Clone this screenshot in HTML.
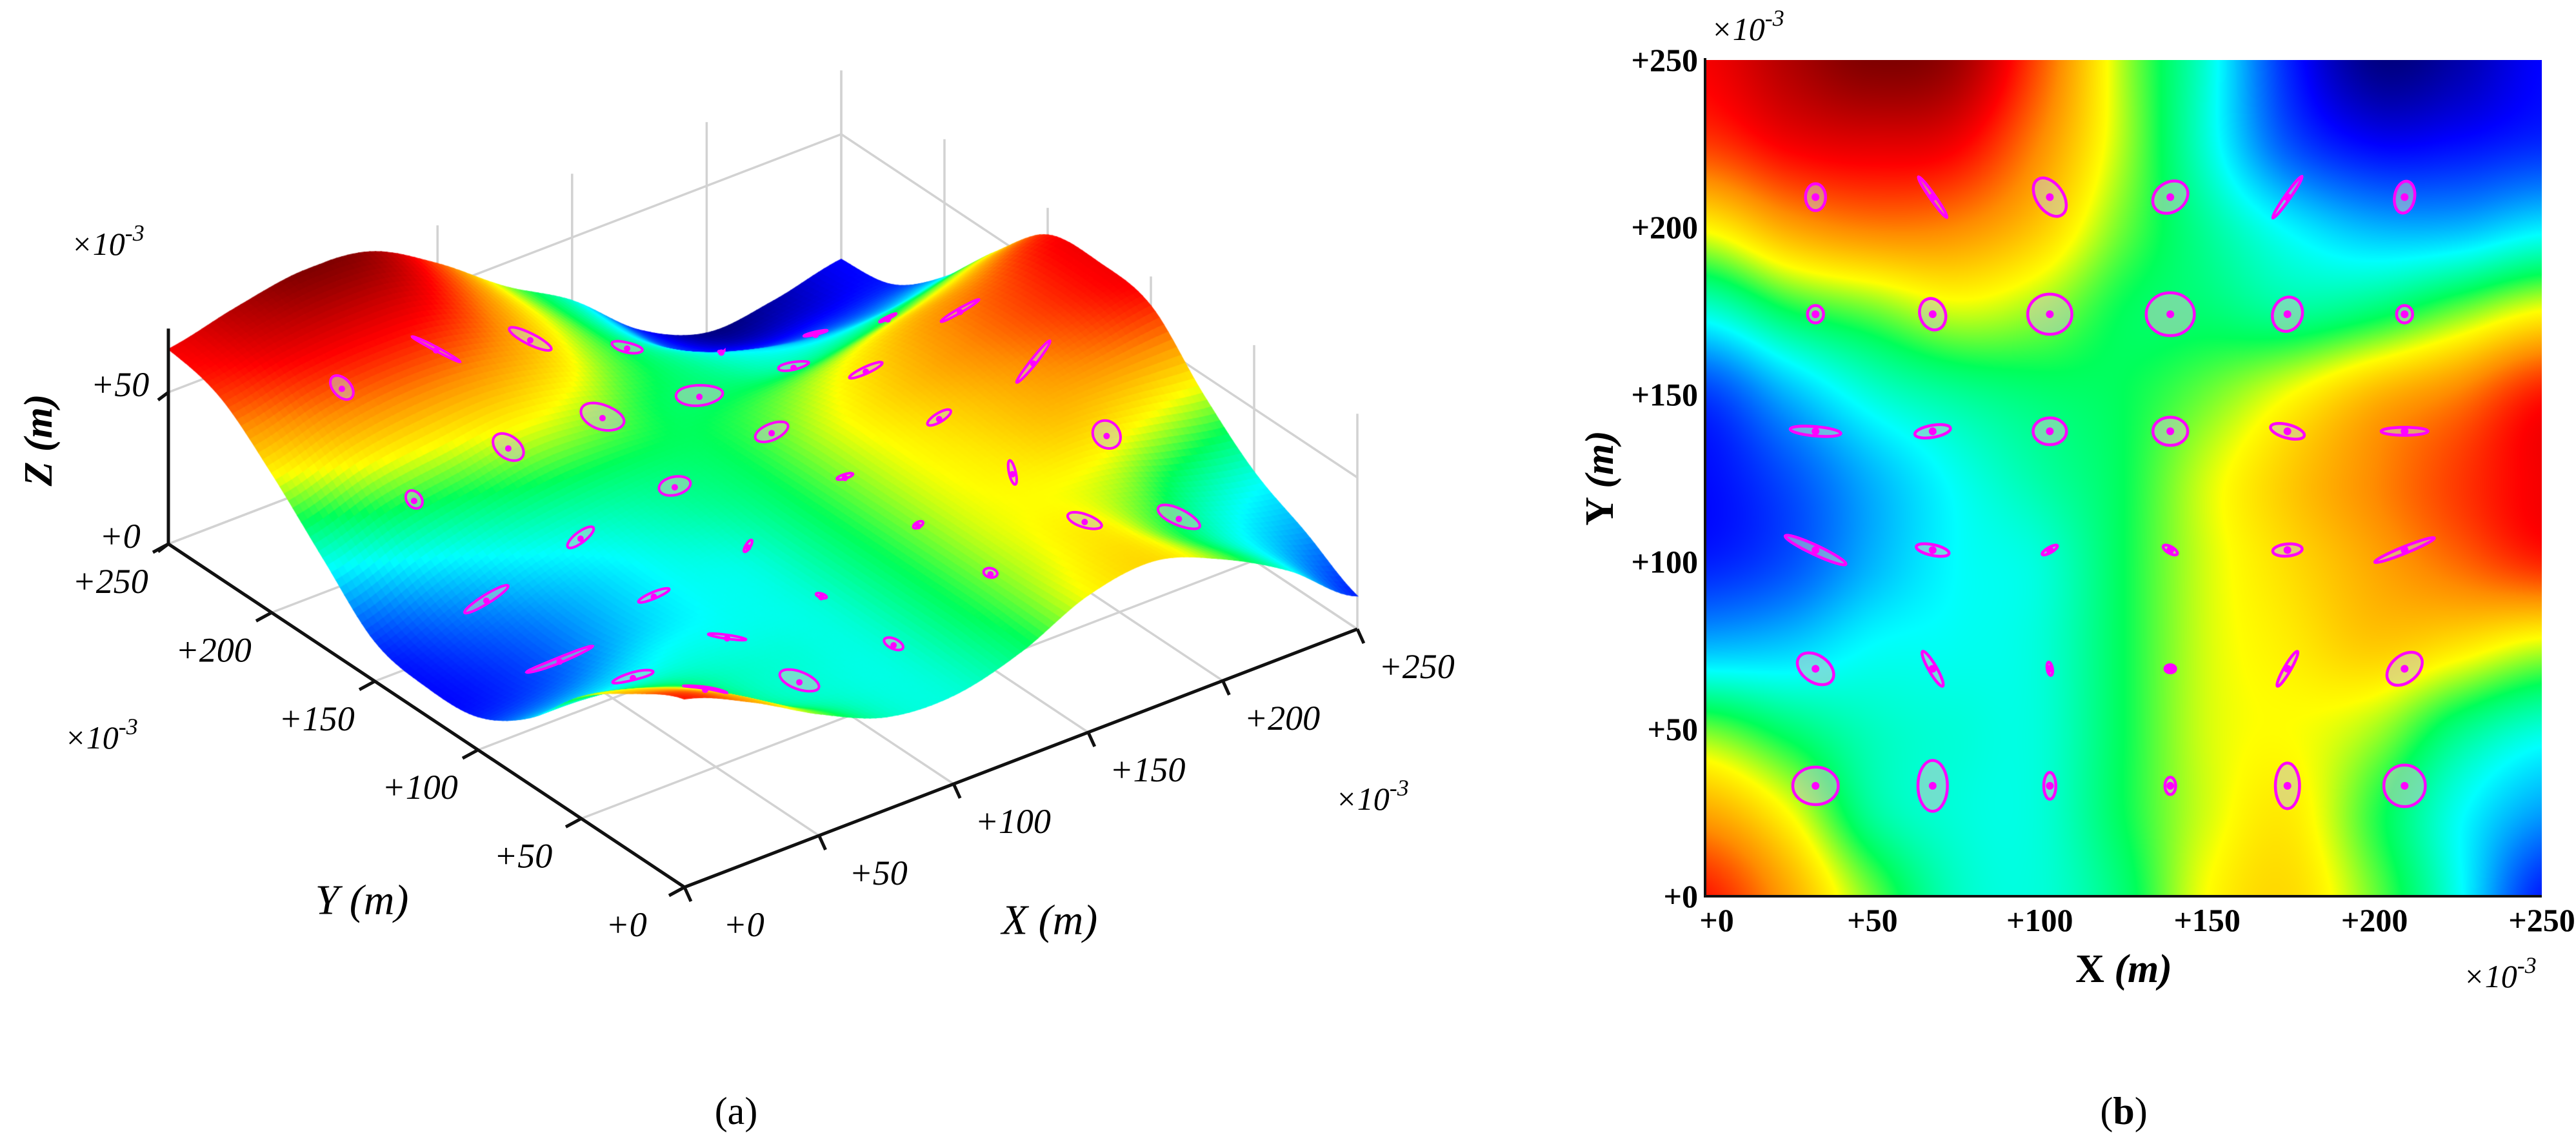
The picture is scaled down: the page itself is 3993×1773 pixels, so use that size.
<!DOCTYPE html>
<html><head><meta charset="utf-8"><style>
html,body{margin:0;padding:0;background:#fff;}
#root{position:relative;width:3993px;height:1773px;overflow:hidden;background:#fff;}
canvas,svg{position:absolute;left:0;top:0;}
text{font-family:"Liberation Serif",serif;}
</style></head><body>
<div id="root">
<svg id="backA" width="2500" height="1773"></svg>
<canvas id="surfA" width="2500" height="1773"></canvas>
<svg id="frontA" width="2500" height="1773"></svg>
<canvas id="heatB" width="1297" height="1296" style="left:2643px;top:93px"></canvas>
<svg id="svgB" width="3993" height="1773"></svg>
</div>
<script>
// ---- data ----
const gridX=[0,25,50,75,100,125,150,175,200,225,250];
const gridY=[250,225,200,175,150,125,100,75,50,25,0];
const fieldRows=[
[0.88,0.95,1.00,0.97,0.80,0.58,0.40,0.15,0.02,0.05,0.12],
[0.82,0.88,0.90,0.88,0.75,0.58,0.40,0.20,0.12,0.13,0.16],
[0.63,0.72,0.76,0.75,0.68,0.55,0.45,0.36,0.30,0.30,0.35],
[0.40,0.50,0.55,0.60,0.57,0.50,0.48,0.45,0.48,0.55,0.62],
[0.18,0.30,0.40,0.45,0.48,0.50,0.55,0.62,0.70,0.76,0.85],
[0.13,0.20,0.30,0.38,0.44,0.50,0.60,0.68,0.75,0.82,0.88],
[0.15,0.20,0.30,0.37,0.40,0.50,0.60,0.66,0.72,0.78,0.84],
[0.30,0.32,0.37,0.38,0.40,0.50,0.60,0.64,0.68,0.65,0.60],
[0.55,0.48,0.42,0.40,0.40,0.50,0.60,0.62,0.58,0.47,0.40],
[0.72,0.62,0.45,0.40,0.40,0.50,0.60,0.64,0.52,0.38,0.28],
[0.85,0.72,0.55,0.42,0.40,0.48,0.62,0.66,0.55,0.38,0.15]];
const ellX=[33,68,103,139,174,209];
const ellY=[209,174,139,103.5,68,33];
const ellRx=[3,7.4,6.4,5.6,7.6,3, 2.4,3.8,6.6,7.2,4.4,2.4, 7.6,5.4,5,5.2,5.2,7, 10,5,2.6,2.4,4.4,9.6, 6,6,2,1.6,6,6, 6.8,4.4,1.8,1.6,3.6,6.2];
const ellRy=[4,0.8,4,4.4,0.8,4.8, 2.6,4.8,6,6.4,5.2,2.6, 1.4,1.8,4,4.2,2,1.2, 1.4,1.6,0.8,1,1.8,1, 4,1.2,0.8,1.2,1,4, 5.6,7.6,4,2.6,6.8,6.2];
const ellAng=[0,55,55,-35,-55,10, 0,-20,0,0,20,0, 5,-10,0,0,15,0, 25,12,-30,30,-5,-22, 35,60,80,0,-60,-40, 0,0,0,0,0,0];
const tickVals=[0,50,100,150,200,250];
const zTicks=[0,50];
const cmapPos=[0,0.12,0.25,0.37,0.5,0.62,0.75,0.87,1];
const cmapCol=[[0,0,110],[0,0,255],[0,128,255],[0,255,255],[0,255,90],[255,255,0],[255,140,0],[255,0,0],[128,0,0]];

const NS="http://www.w3.org/2000/svg";
function gv(r,c){r=Math.max(0,Math.min(10,r));c=Math.max(0,Math.min(10,c));return fieldRows[r][c];}
function cr(p0,p1,p2,p3,t){return p1+0.5*t*(p2-p0+t*(2*p0-5*p1+4*p2-p3+t*(3*(p1-p2)+p3-p0)));}
function field(x,y){
  let c=Math.max(0,Math.min(9.9999,x/25)), r=Math.max(0,Math.min(9.9999,(250-y)/25));
  let c0=Math.floor(c),r0=Math.floor(r),fc=c-c0,fr=r-r0;
  const rows=[];
  for(let k=-1;k<=2;k++)rows.push(cr(gv(r0+k,c0-1),gv(r0+k,c0),gv(r0+k,c0+1),gv(r0+k,c0+2),fc));
  return Math.max(0,Math.min(1,cr(rows[0],rows[1],rows[2],rows[3],fr)));
}
function cmap(t){
  for(let i=0;i<cmapPos.length-1;i++){if(t<=cmapPos[i+1]){const f=(t-cmapPos[i])/(cmapPos[i+1]-cmapPos[i]);
    return cmapCol[i].map((v,k)=>Math.round(v+(cmapCol[i+1][k]-v)*f));}}
  return cmapCol[cmapCol.length-1];
}
function mk(parent,tag,attrs){const e=document.createElementNS(NS,tag);for(const k in attrs)e.setAttribute(k,attrs[k]);parent.appendChild(e);return e;}

// ---- panel b ----
const bX0=2643,bX1=3940,bY0=93,bY1=1389;
function bx(x){return bX0+x/250*(bX1-bX0);}
function by(y){return bY1-y/250*(bY1-bY0);}
(function(){
  const cv=document.getElementById('heatB'),ctx=cv.getContext('2d');
  const W=cv.width,H=cv.height,img=ctx.createImageData(W,H);
  for(let j=0;j<H;j++){const y=250-(j+0.5)/H*250;
    for(let i=0;i<W;i++){const x=(i+0.5)/W*250;const c=cmap(field(x,y));const k=(j*W+i)*4;
      img.data[k]=c[0];img.data[k+1]=c[1];img.data[k+2]=c[2];img.data[k+3]=255;}}
  ctx.putImageData(img,0,0);
})();
const svgB=document.getElementById('svgB');
const pxU=(bX1-bX0)/250;
for(let r=0;r<6;r++)for(let c=0;c<6;c++){
  const i=r*6+c;
  const g=mk(svgB,'g',{transform:`translate(${bx(ellX[c])},${by(ellY[r])}) rotate(${ellAng[i]})`});
  
  
  mk(g,'ellipse',{cx:0,cy:0,rx:ellRx[i]*pxU,ry:ellRy[i]*pxU,fill:'rgba(200,200,200,0.55)',stroke:'#ff00ff','stroke-width':4.5});
  mk(g,'circle',{cx:0,cy:0,r:6,fill:'#ff00ff'});
}
mk(svgB,'path',{d:`M${bX0},${bY0-3} V${bY1} H${bX1}`,fill:'none',stroke:'#111','stroke-width':4});
tickVals.forEach(v=>{
  const t=mk(svgB,'text',{x:2632,y:by(v),'text-anchor':'end','dominant-baseline':'central','font-size':50,'font-weight':'bold'});
  t.textContent='+'+v;
  const t2=mk(svgB,'text',{x:bx(v)+(v===0?18:0),y:1426,'text-anchor':'middle','dominant-baseline':'central','font-size':50,'font-weight':'bold'});
  t2.textContent='+'+v;
});
</script>
<script>
(function(){
const s=document.getElementById('svgB');
s.insertAdjacentHTML('beforeend',`
<text x="3292" y="1522" text-anchor="middle" font-size="62" font-weight="bold">X <tspan font-style="italic">(m)</tspan></text>
<text transform="translate(2500,741) rotate(-90)" text-anchor="middle" font-size="62" font-weight="bold">Y <tspan font-style="italic">(m)</tspan></text>
<text x="3818" y="1530" font-size="50" font-style="italic">×10<tspan dy="-22" font-size="36">-3</tspan></text>
<text x="2652" y="62" font-size="50" font-style="italic">×10<tspan dy="-22" font-size="36">-3</tspan></text>
<text x="3292" y="1742" text-anchor="middle" font-size="60">(<tspan font-weight="bold">b</tspan>)</text>`);
})();
</script>
<script>
// ---- panel a ----
function P(x,y,z){return [1061+x/250*1043-y/250*800, 1375-x/250*400-y/250*532-z*4.7];}
const zScale=73;
const back=document.getElementById('backA'),front=document.getElementById('frontA');
function line(par,a,b,st,w,name){const l=mk(par,'line',{x1:a[0],y1:a[1],x2:b[0],y2:b[1],stroke:st,'stroke-width':w});return l;}
const gcol='#d2d2d2';
tickVals.forEach(v=>{
  line(back,P(v,250,0),P(v,250,71),gcol,3.5,'grid-line');
  line(back,P(250,v,0),P(250,v,71),gcol,3.5,'grid-line');
  line(back,P(v,0,0),P(v,250,0),gcol,3.5,'grid-line');
  line(back,P(0,v,0),P(250,v,0),gcol,3.5,'grid-line');
});
zTicks.forEach(z=>{
  line(back,P(0,250,z),P(250,250,z),gcol,3.5,'grid-line');
  line(back,P(250,250,z),P(250,0,z),gcol,3.5,'grid-line');
});
(function(){
  const ctx=document.getElementById('surfA').getContext('2d');
  const N=120,q=[];
  for(let i=0;i<N;i++)for(let j=0;j<N;j++)q.push([i,j]);
  q.sort((a,b)=>(b[0]+b[1])-(a[0]+a[1]));
  q.forEach(([i,j])=>{
    const x0=i/N*250,x1=(i+1)/N*250,y0=j/N*250,y1=(j+1)/N*250;
    const pts=[[x0,y0],[x1,y0],[x1,y1],[x0,y1]].map(p=>P(p[0],p[1],field(p[0],p[1])*zScale));
    const c=cmap(field((x0+x1)/2,(y0+y1)/2));const col=`rgb(${c[0]},${c[1]},${c[2]})`;
    ctx.beginPath();ctx.moveTo(pts[0][0],pts[0][1]);for(let k=1;k<4;k++)ctx.lineTo(pts[k][0],pts[k][1]);ctx.closePath();
    ctx.fillStyle=col;ctx.strokeStyle=col;ctx.lineWidth=1.5;ctx.fill();ctx.stroke();
  });
})();
for(let r=0;r<6;r++)for(let c=0;c<6;c++){
  const i=r*6+c,th=ellAng[i]*Math.PI/180;let d='';
  for(let k=0;k<=40;k++){const ph=k/40*2*Math.PI;
    const dx=ellRx[i]*Math.cos(ph)*Math.cos(th)-ellRy[i]*Math.sin(ph)*Math.sin(th);
    const dy=ellRx[i]*Math.cos(ph)*Math.sin(th)+ellRy[i]*Math.sin(ph)*Math.cos(th);
    const x=ellX[c]+dx,y=ellY[r]-dy;const p=P(x,y,field(x,y)*zScale+0.5);
    d+=(k?'L':'M')+p[0].toFixed(1)+','+p[1].toFixed(1);}
  const e=mk(front,'path',{d:d+'Z',fill:'rgba(200,200,200,0.55)',stroke:'#ff00ff','stroke-width':4});
  
  
  const cp=P(ellX[c],ellY[r],field(ellX[c],ellY[r])*zScale);
  const dot=mk(front,'circle',{cx:cp[0],cy:cp[1],r:5,fill:'#ff00ff'});
  
  
}
line(front,P(0,250,0),P(0,250,71),'#111',5,'z-axis-line');
line(front,P(0,250,0),P(0,0,0),'#111',5,'y-axis-line');
line(front,P(0,0,0),P(250,0,0),'#111',5,'x-axis-line');
function txt(x,y,s,name,size){const t=mk(front,'text',{x:x,y:y,'text-anchor':'middle','dominant-baseline':'central','font-size':size||54,'font-style':'italic'});t.textContent=s;return t;}
tickVals.forEach(v=>{
  const a=P(0,v,0);line(front,a,[a[0]-24,a[1]+13],'#111',5,'y-tick');
  txt(a[0]-90,a[1]+58,'+'+v,'y-tick-label-a');
  const b=P(v,0,0);line(front,b,[b[0]+10,b[1]+22],'#111',5,'x-tick');
  txt(b[0]+92,b[1]+58,'+'+v,'x-tick-label-a');
});
zTicks.forEach(z=>{const a=P(0,250,z);line(front,a,[a[0]-16,a[1]+12],'#111',5,'z-tick');txt(a[0]-75,a[1]-12,'+'+z,'z-tick-label-a');});
front.insertAdjacentHTML('beforeend',`
<text transform="translate(60,682) rotate(-90)" text-anchor="middle" dominant-baseline="central" font-size="62" font-style="italic" font-weight="bold">Z (m)</text>
<text x="561" y="1395" text-anchor="middle" dominant-baseline="central" font-size="66" font-style="italic">Y (m)</text>
<text x="1627" y="1426" text-anchor="middle" dominant-baseline="central" font-size="66" font-style="italic">X (m)</text>
<text x="110" y="395" font-size="50" font-style="italic">×10<tspan dy="-22" font-size="36">-3</tspan></text>
<text x="100" y="1160" font-size="50" font-style="italic">×10<tspan dy="-22" font-size="36">-3</tspan></text>
<text x="2070" y="1255" font-size="50" font-style="italic">×10<tspan dy="-22" font-size="36">-3</tspan></text>
<text x="1141" y="1742" text-anchor="middle" font-size="60">(a)</text>`);
</script>
</body></html>
